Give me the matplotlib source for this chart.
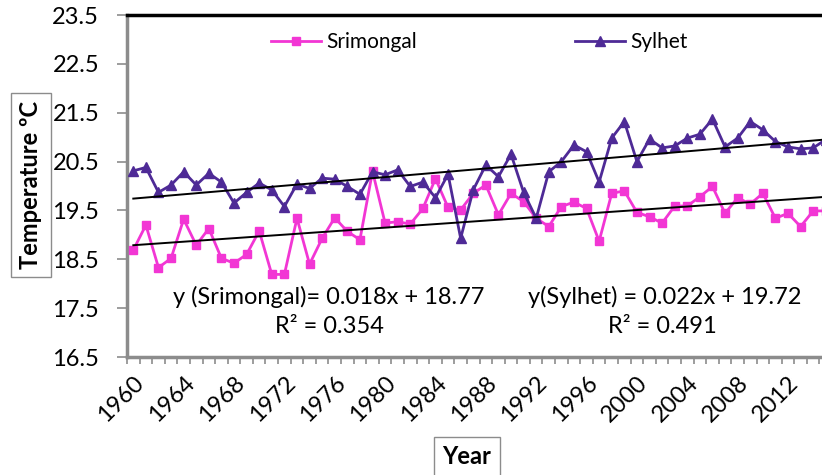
import matplotlib
matplotlib.use("Agg")
import matplotlib.pyplot as plt
import numpy as np

plt.rcParams["font.family"] = ["Lato", "DejaVu Sans"]

PINK = "#F236D4"
PURPLE = "#4E2A96"
GREY = "#8C8C8C"

years = list(range(1960, 2016))
srimongal = [18.69, 19.20, 18.33, 18.52, 19.32, 18.79, 19.13, 18.52, 18.42, 18.60,
             19.08, 18.19, 18.19, 19.34, 18.40, 18.93, 19.35, 19.07, 18.90, 20.30,
             19.24, 19.27, 19.22, 19.54, 20.15, 19.56, 19.51, 19.85, 20.02, 19.41,
             19.85, 19.68, 19.34, 19.17, 19.58, 19.67, 19.54, 18.87, 19.85, 19.90,
             19.46, 19.37, 19.24, 19.59, 19.59, 19.78, 19.99, 19.44, 19.76, 19.63,
             19.85, 19.34, 19.44, 19.17, 19.49, 19.49]
sylhet = [20.31, 20.38, 19.87, 20.02, 20.29, 20.02, 20.26, 20.08, 19.65, 19.87,
          20.06, 19.92, 19.58, 20.04, 19.95, 20.16, 20.14, 19.99, 19.83, 20.29,
          20.23, 20.33, 19.99, 20.08, 19.76, 20.24, 18.93, 19.92, 20.43, 20.19,
          20.65, 19.87, 19.34, 20.29, 20.50, 20.84, 20.70, 20.08, 20.98, 21.32,
          20.50, 20.96, 20.78, 20.82, 20.98, 21.06, 21.37, 20.80, 20.98, 21.32,
          21.15, 20.91, 20.80, 20.76, 20.78, 20.95]
# Excel linear trend coefficients (x = 1, 2, ... n)
sri_slope, sri_icpt = 0.018, 18.77
syl_slope, syl_icpt = 0.022, 19.72

yr = np.array(years)
idx = np.arange(1, len(years) + 1)
FS = 17

fig = plt.figure(figsize=(8.22, 4.75), dpi=100)
ax = fig.add_axes([127 / 822, 118 / 475, 695 / 822, 342 / 475])

ax.plot(yr, srimongal, color=PINK, lw=2.0, marker="s", ms=5.5, label="Srimongal", zorder=3)
ax.plot(yr, sylhet, color=PURPLE, lw=2.0, marker="^", ms=7, label="Sylhet", zorder=3)
ax.plot(yr, sri_slope * idx + sri_icpt, color="black", lw=1.4, zorder=4)
ax.plot(yr, syl_slope * idx + syl_icpt, color="black", lw=1.4, zorder=4)

ax.set_xlim(1959.5, 2014.7)
ax.set_ylim(16.5, 23.5)
ax.set_yticks(np.arange(16.5, 23.6, 1.0))
ax.set_yticklabels([f"{v:.1f}" for v in np.arange(16.5, 23.6, 1.0)], fontsize=FS)
ax.set_xticks(yr[::4])
ax.set_xticklabels([str(y) for y in years[::4]], fontsize=FS, rotation=45,
                   ha="right", va="top", rotation_mode="anchor")
ax.set_xticks(np.arange(1959.5, 2015, 1.0), minor=True)
ax.tick_params(axis="x", which="major", length=0, pad=11)
ax.tick_params(axis="x", which="minor", length=5, width=1.2, color=GREY, direction="out")
ax.tick_params(axis="y", length=7, width=1.2, color=GREY, pad=13)

for s in ("left", "bottom"):
    ax.spines[s].set_color(GREY)
    ax.spines[s].set_linewidth(2.5)
ax.spines["top"].set_color("black")
ax.spines["top"].set_linewidth(2.5)
ax.spines["right"].set_visible(False)

ax.text(1975.5, 17.73, "y (Srimongal)= 0.018x + 18.77", fontsize=FS, ha="center", va="center")
ax.text(1975.6, 17.13, "R² = 0.354", fontsize=FS, ha="center", va="center")
ax.text(2002.2, 17.73, "y(Sylhet) = 0.022x + 19.72", fontsize=FS, ha="center", va="center")
ax.text(2002.0, 17.13, "R² = 0.491", fontsize=FS, ha="center", va="center")

ax.legend(loc="center", bbox_to_anchor=(0.583, 0.912), bbox_transform=fig.transFigure,
          ncol=2, frameon=False, fontsize=15, handlelength=2.4, columnspacing=7.6,
          handletextpad=0.25)

fig.text(31 / 822, 1 - 185 / 475, "Temperature ºC", rotation=90, fontsize=FS,
         fontweight="bold", ha="center", va="center",
         bbox=dict(boxstyle="square,pad=0.35", fc="white", ec=GREY, lw=1))
fig.text(467 / 822, 1 - 457 / 475, "Year", fontsize=FS, fontweight="bold",
         ha="center", va="center",
         bbox=dict(boxstyle="square,pad=0.35", fc="white", ec=GREY, lw=1))

fig.savefig("out.png", dpi=100, facecolor="white")
